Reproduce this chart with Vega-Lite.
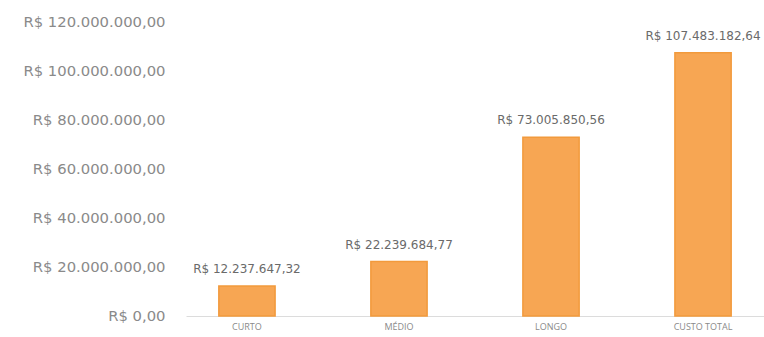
{
  "$schema": "https://vega.github.io/schema/vega-lite/v6.json",
  "width": 578,
  "height": 294,
  "autosize": {"type": "none"},
  "padding": {"left": 186, "top": 22, "right": 0, "bottom": 21},
  "background": "white",
  "config": {
    "view": {"stroke": null},
    "locale": {"number": {"decimal": ",", "thousands": ".", "grouping": [3], "currency": ["R$ ", ""]}},
    "font": "DejaVu Sans"
  },
  "data": {
    "values": [
      {"categoria": "CURTO", "custo": 12237647.32},
      {"categoria": "MÉDIO", "custo": 22239684.77},
      {"categoria": "LONGO", "custo": 73005850.56},
      {"categoria": "CUSTO TOTAL", "custo": 107483182.64}
    ]
  },
  "encoding": {
    "x": {
      "field": "categoria", "type": "nominal", "sort": null,
      "scale": {"paddingInner": 0.63, "paddingOuter": 0.216},
      "axis": {"title": null, "labelAngle": 0, "labelFont": "Open Sans", "labelFontSize": 9, "labelColor": "#8a8a8a", "ticks": false, "domainColor": "#dcdcdc", "domainWidth": 1, "labelPadding": 6}
    },
    "y": {
      "field": "custo", "type": "quantitative",
      "scale": {"domain": [0, 120000000], "nice": false},
      "axis": {"title": null, "values": [0, 20000000, 40000000, 60000000, 80000000, 100000000, 120000000], "format": "$,.2f", "grid": false, "domain": false, "ticks": false, "labelFont": "DejaVu Sans", "labelFontSize": 14.8, "labelColor": "#8a8a8a", "labelPadding": 21}
    }
  },
  "layer": [
    {"mark": {"type": "bar", "fill": "#F7A653", "stroke": "#F29A3C", "strokeWidth": 1.5}},
    {
      "mark": {"type": "text", "baseline": "bottom", "dy": -10, "font": "DejaVu Sans", "fontSize": 12, "color": "#6a6a6a"},
      "encoding": {"text": {"field": "custo", "type": "quantitative", "format": "$,.2f"}}
    }
  ]
}
